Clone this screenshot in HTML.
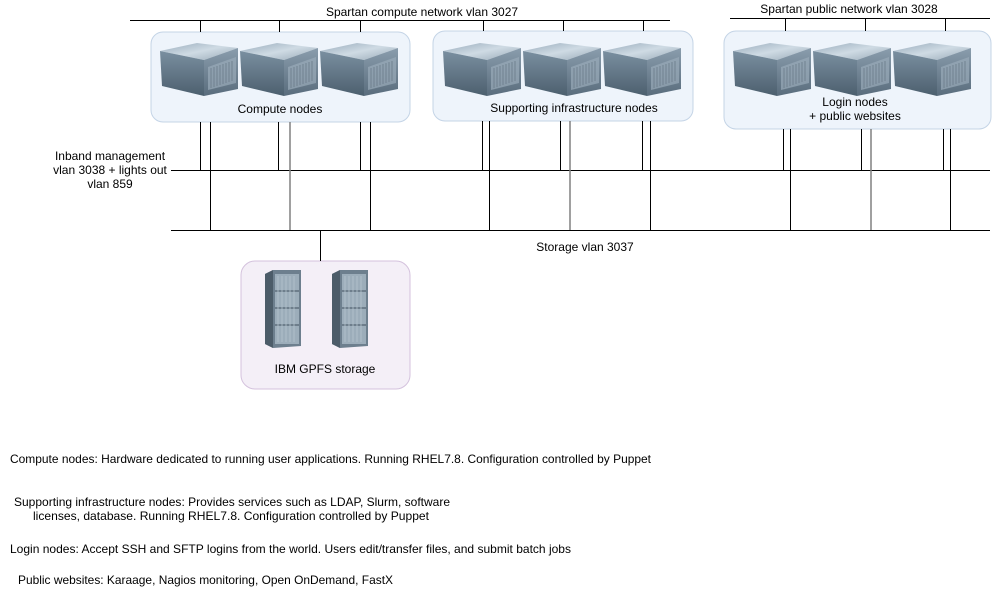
<!DOCTYPE html>
<html><head><meta charset="utf-8"><style>
html,body{margin:0;padding:0;background:#fff;}
svg{display:block;font-family:"Liberation Sans",sans-serif;}
</style></head><body>
<svg width="992" height="593" viewBox="0 0 992 593" xmlns="http://www.w3.org/2000/svg">
<defs>
<linearGradient id="gt" x1="0" y1="0" x2="1" y2="1"><stop offset="0" stop-color="#98abbb"/><stop offset="0.5" stop-color="#cfdbe4"/><stop offset="1" stop-color="#98a9b7"/></linearGradient>
<linearGradient id="gl" x1="0" y1="0" x2="0" y2="1"><stop offset="0" stop-color="#7a8fa0"/><stop offset="1" stop-color="#4c5f6e"/></linearGradient>
<linearGradient id="gf" x1="0" y1="0" x2="0" y2="1"><stop offset="0" stop-color="#8a9dad"/><stop offset="1" stop-color="#5a6d7d"/></linearGradient>
<g id="srv">
<polygon points="0,8 37,0 78,5 44,17" fill="url(#gt)"/>
<polygon points="0,8 44,17 44,53 2,43" fill="url(#gl)"/>
<polygon points="44,17 78,5 78,46 44,53" fill="url(#gf)"/>
<polygon points="48,24 76,14 76,40 48,47" fill="#9aabb9" opacity="0.7"/>
<path d="M51,25v20M54,24v20M57,23v20M60,22v20M63,21v20M66,20v20M69,19v20M72,18v20" stroke="#6a7b89" stroke-width="0.8"/>
</g>
<g id="rack">
<polygon points="0,4 8,0 36,0 36,76 8,78 0,74" fill="#6d7f8e"/>
<polygon points="0,4 8,0 8,78 0,74" fill="#4c5c69"/>
<rect x="10" y="4" width="24" height="70" fill="#9cadba"/>
<path d="M10,21h24M10,38h24M10,55h24" stroke="#5e6f7c" stroke-width="1.5"/>
<path d="M13,6v66M17,6v66M21,6v66M25,6v66M29,6v66" stroke="#b6c4cf" stroke-width="0.8"/>
</g>
</defs>

<rect x="151" y="32" width="259" height="90" rx="12" fill="#eef4fb" stroke="#c4d4e6"/>
<rect x="433" y="31" width="260" height="90" rx="12" fill="#eef4fb" stroke="#c4d4e6"/>
<rect x="724" y="31" width="267" height="98" rx="12" fill="#eef4fb" stroke="#c4d4e6"/>
<rect x="241" y="261" width="169" height="128" rx="14" fill="#f4eff7" stroke="#d4c2dd"/>

<use href="#srv" x="160" y="43"/><use href="#srv" x="240" y="43"/><use href="#srv" x="320" y="43"/>
<use href="#srv" x="443" y="43"/><use href="#srv" x="523" y="43"/><use href="#srv" x="603" y="43"/>
<use href="#srv" x="733" y="43"/><use href="#srv" x="813" y="43"/><use href="#srv" x="893" y="43"/>
<use href="#rack" x="265" y="270"/><use href="#rack" x="332" y="270"/>

<g stroke="#000" stroke-width="1" fill="none">
<path d="M130,20.5H670M730,18.5H990"/>
<path d="M200.5,20V32M279.5,20V32M360.5,20V32M483.5,20V31M563.5,20V31M643.5,20V31M785.5,18V31M865.5,18V31M945.5,18V31"/>
<path d="M171,170.5H990M171,230.5H990M320.5,230V261"/>
<path d="M200.5,122V170M210.5,122V230M278.5,122V170M360.5,122V170M370.5,122V230"/>
<path d="M482.5,121V170M489.5,121V230M560.5,121V170M642.5,121V170M650.5,121V230"/>
<path d="M783.5,129V170M790.5,129V230M861.5,129V170M943.5,129V170M950.5,129V230"/>
</g>
<g stroke="#808080" stroke-width="1.5">
<path d="M290,122V230M570,121V230M871,129V230"/>
</g>

<g font-size="12" fill="#000">
<text x="422" y="16" text-anchor="middle">Spartan compute network vlan 3027</text>
<text x="849" y="13" text-anchor="middle">Spartan public network vlan 3028</text>
<text x="280" y="113" text-anchor="middle">Compute nodes</text>
<text x="574" y="112" text-anchor="middle">Supporting infrastructure nodes</text>
<text x="855" y="106" text-anchor="middle">Login nodes</text>
<text x="855" y="120" text-anchor="middle">+ public websites</text>
<text x="110" y="160" text-anchor="middle">Inband management</text>
<text x="110" y="174" text-anchor="middle">vlan 3038 + lights out</text>
<text x="110" y="188" text-anchor="middle">vlan 859</text>
<text x="585" y="251" text-anchor="middle">Storage vlan 3037</text>
<text x="325" y="373" text-anchor="middle">IBM GPFS storage</text>
<text x="10" y="463" textLength="641" lengthAdjust="spacingAndGlyphs">Compute nodes: Hardware dedicated to running user applications. Running RHEL7.8. Configuration controlled by Puppet</text>
<text x="14" y="506" textLength="436" lengthAdjust="spacingAndGlyphs">Supporting infrastructure nodes: Provides services such as LDAP, Slurm, software</text>
<text x="33" y="520" textLength="396" lengthAdjust="spacingAndGlyphs">licenses, database. Running RHEL7.8. Configuration controlled by Puppet</text>
<text x="10" y="553" textLength="561" lengthAdjust="spacingAndGlyphs">Login nodes: Accept SSH and SFTP logins from the world. Users edit/transfer files, and submit batch jobs</text>
<text x="18" y="584" textLength="375" lengthAdjust="spacingAndGlyphs">Public websites: Karaage, Nagios monitoring, Open OnDemand, FastX</text>
</g>
</svg>
</body></html>
